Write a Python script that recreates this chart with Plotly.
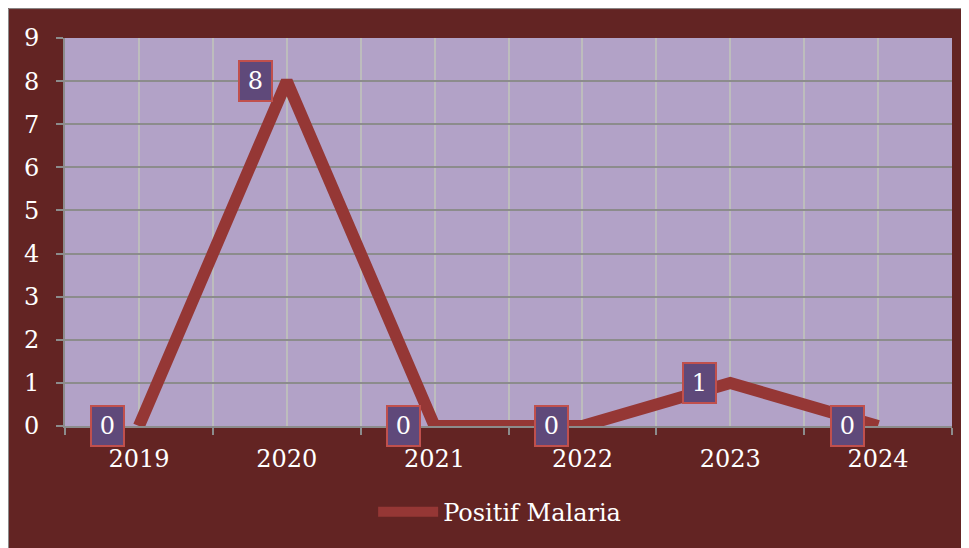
import plotly.graph_objects as go

years = ["2019", "2020", "2021", "2022", "2023", "2024"]
positif_malaria = [0, 8, 0, 0, 1, 0]

x_pos = list(range(len(years)))
boundaries = [i - 0.5 for i in range(len(years) + 1)]

font_family = "DejaVu Serif"

fig = go.Figure()

fig.add_trace(go.Scatter(
    x=x_pos,
    y=positif_malaria,
    mode="lines",
    name="Positif Malaria",
    line=dict(color="#953735", width=12),
))

# data labels in boxes, to the left of each point
for i, v in zip(x_pos, positif_malaria):
    fig.add_annotation(
        x=i, y=v, text=str(v), showarrow=False, xshift=-31,
        bgcolor="#5F497A", bordercolor="#C0504D", borderwidth=2,
        width=29, height=36,
        font=dict(family=font_family, size=24, color="white"),
    )

# thin frame round the whole chart
fig.add_shape(type="rect", xref="paper", yref="paper", layer="below",
              x0=-0.0637, x1=1.1, y0=-0.4, y1=1.0758,
              fillcolor="rgba(0,0,0,0)", line=dict(color="#8C8C8C", width=1))

fig.update_xaxes(
    range=[-0.5, len(years) - 0.5],
    tickmode="array", tickvals=x_pos, ticktext=years,
    ticks="", showgrid=True, gridcolor="#BDBDBD", gridwidth=2,
    showline=True, linecolor="#8C8C8C", linewidth=2,
    zeroline=False,
    minor=dict(tickmode="array", tickvals=boundaries, showgrid=True,
               gridcolor="#BDBDBD", gridwidth=2, ticks="outside",
               ticklen=7, tickwidth=2, tickcolor="#8C8C8C"),
    tickfont=dict(family=font_family, size=24, color="white"),
    ticklabelstandoff=10,
)
fig.update_yaxes(
    range=[0, 9], dtick=1, tick0=0,
    showgrid=True, gridcolor="#8C8C8C", gridwidth=2,
    ticks="outside", ticklen=7, tickwidth=2, tickcolor="#8C8C8C",
    showline=True, linecolor="#8C8C8C", linewidth=2,
    zeroline=False,
    tickfont=dict(family=font_family, size=24, color="white"),
    ticklabelstandoff=12,
)

fig.update_layout(
    width=977, height=548,
    margin=dict(l=57, r=33, t=30, b=130),
    paper_bgcolor="#632423",
    plot_bgcolor="#B2A2C7",
    showlegend=True,
    legend=dict(orientation="h", x=0.49, xanchor="center",
                y=-0.222, yanchor="middle", itemwidth=60,
                bgcolor="rgba(0,0,0,0)",
                font=dict(family=font_family, size=24, color="white")),
)

fig.write_html("out.html")
